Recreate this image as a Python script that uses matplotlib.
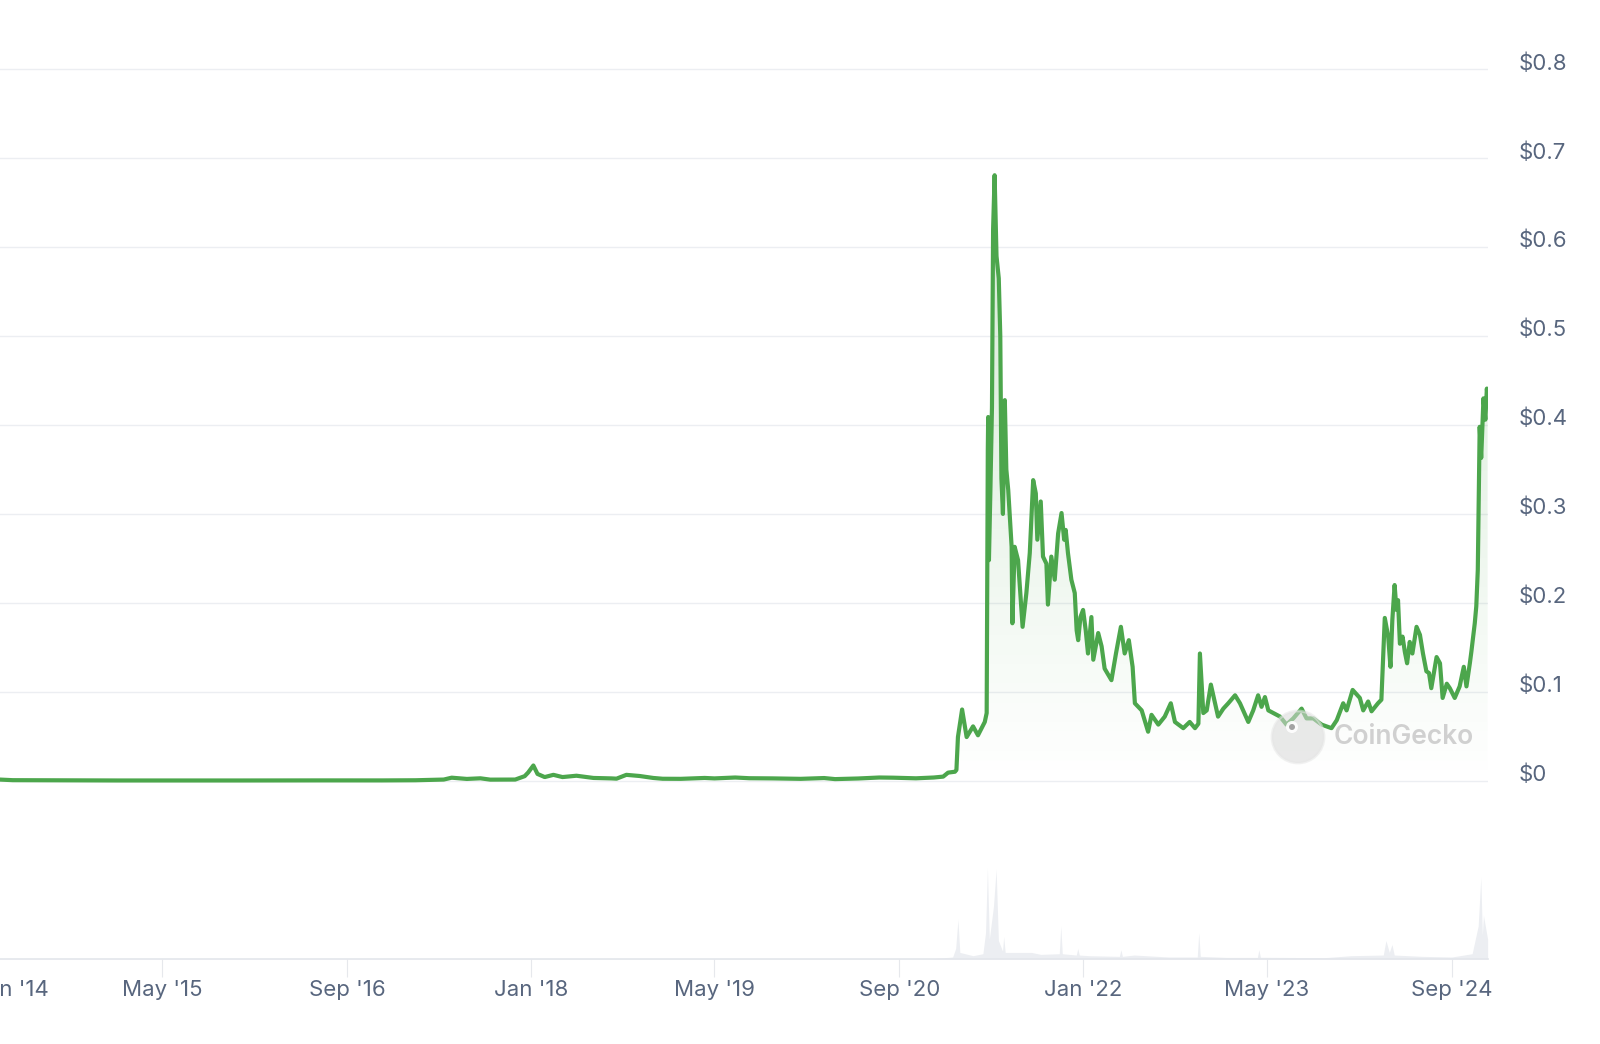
import numpy as np
import pandas as pd
import matplotlib
matplotlib.use('Agg')
import matplotlib.pyplot as plt
import matplotlib.dates as mdates
from matplotlib.colors import LinearSegmentedColormap
from matplotlib.transforms import ScaledTranslation
from matplotlib.patches import Circle

plt.rcParams['font.family'] = ['Inter', 'DejaVu Sans']

# PRICE (USD)
price_dates = [
    '2013-12-15', '2013-12-20', '2014-01-20', '2014-02-15', '2014-04-01', '2014-06-01', '2014-09-01',
    '2015-01-01', '2015-06-01', '2015-12-01', '2016-03-01', '2016-07-01', '2016-12-01',
    '2017-03-01', '2017-05-15', '2017-06-05', '2017-07-15', '2017-08-20', '2017-09-15', '2017-10-15',
    '2017-11-20', '2017-12-15', '2017-12-24',
    '2018-01-07', '2018-01-18', '2018-02-06', '2018-03-01', '2018-03-25', '2018-05-01', '2018-06-15',
    '2018-08-01', '2018-08-15', '2018-09-10', '2018-10-15', '2018-11-20', '2018-12-15',
    '2019-02-01', '2019-04-05', '2019-05-01', '2019-06-25', '2019-08-01', '2019-10-01', '2019-12-15',
    '2020-02-15', '2020-03-15', '2020-05-15', '2020-07-10', '2020-08-15', '2020-10-15', '2020-12-01',
    '2020-12-26',
    # 2021
    '2021-01-08', '2021-01-26', '2021-01-30', '2021-02-03', '2021-02-14', '2021-02-26', '2021-03-15',
    '2021-03-28', '2021-04-15', '2021-04-20', '2021-04-23', '2021-04-24', '2021-04-26', '2021-04-30',
    '2021-05-04', '2021-05-07', '2021-05-11', '2021-05-16', '2021-05-22', '2021-05-26', '2021-05-29',
    '2021-06-02', '2021-06-07', '2021-06-11', '2021-06-16', '2021-06-25', '2021-06-27', '2021-07-03',
    '2021-07-12', '2021-07-24', '2021-08-03', '2021-08-12', '2021-08-21', '2021-08-28', '2021-09-01',
    '2021-09-10', '2021-09-16', '2021-09-25', '2021-09-29', '2021-10-08', '2021-10-17', '2021-10-26',
    '2021-11-04', '2021-11-11', '2021-11-15', '2021-11-21', '2021-11-30', '2021-12-09', '2021-12-14',
    '2021-12-18', '2021-12-24', '2021-12-31',
    # 2022
    '2022-01-07', '2022-01-13', '2022-01-22', '2022-01-27', '2022-02-09', '2022-02-18', '2022-02-26',
    '2022-03-16', '2022-03-28', '2022-04-10', '2022-04-20', '2022-05-01', '2022-05-11', '2022-05-17',
    '2022-06-04', '2022-06-21', '2022-06-30', '2022-07-18', '2022-08-04', '2022-08-20', '2022-08-31',
    '2022-09-22', '2022-10-09', '2022-10-23', '2022-11-01', '2022-11-05', '2022-11-14', '2022-11-23',
    '2022-12-04', '2022-12-15', '2022-12-23',
    # 2023
    '2023-01-06', '2023-01-19', '2023-02-06', '2023-02-19', '2023-03-13', '2023-03-26', '2023-04-08',
    '2023-04-17', '2023-04-26', '2023-05-05', '2023-06-05', '2023-06-22', '2023-07-10', '2023-08-01',
    '2023-08-14', '2023-09-01', '2023-09-23', '2023-10-19', '2023-11-02', '2023-11-19', '2023-11-28',
    '2023-12-14',
    # 2024
    '2024-01-02', '2024-01-11', '2024-01-24', '2024-02-02', '2024-02-19', '2024-02-28', '2024-03-08',
    '2024-03-17', '2024-03-23', '2024-03-28', '2024-04-03', '2024-04-08', '2024-04-12', '2024-04-17',
    '2024-04-24', '2024-04-30', '2024-05-06', '2024-05-13', '2024-05-20', '2024-05-31', '2024-06-09',
    '2024-06-17', '2024-06-26', '2024-07-03', '2024-07-09', '2024-07-23', '2024-08-01', '2024-08-08',
    '2024-08-19', '2024-08-27', '2024-09-09', '2024-09-22', '2024-10-03', '2024-10-10', '2024-10-19',
    '2024-10-23', '2024-11-01', '2024-11-05', '2024-11-09', '2024-11-14', '2024-11-18', '2024-11-24',
    '2024-11-29', '2024-12-03', '2024-12-05',
]
price_usd = [
    0.00056, 0.0012, 0.0018, 0.0014, 0.0005, 0.0004, 0.00025,
    0.00016, 0.00013, 0.00016, 0.00025, 0.00025, 0.00022,
    0.0004, 0.0012, 0.0033, 0.0019, 0.0026, 0.0011, 0.0011,
    0.0012, 0.005, 0.009,
    0.017, 0.0075, 0.004, 0.0065, 0.004, 0.0055, 0.003,
    0.0025, 0.0022, 0.0065, 0.0052, 0.003, 0.0021,
    0.002, 0.003, 0.0025, 0.0035, 0.0027, 0.0025, 0.002,
    0.0029, 0.0017, 0.0024, 0.0035, 0.0033, 0.0026, 0.0035,
    0.0045,
    # 2021
    0.009, 0.010, 0.012, 0.049, 0.080, 0.049, 0.061,
    0.051, 0.066, 0.076, 0.372, 0.409, 0.248, 0.330,
    0.420, 0.620, 0.681, 0.590, 0.565, 0.500, 0.340,
    0.300, 0.428, 0.350, 0.327, 0.263, 0.177, 0.263,
    0.248, 0.173, 0.211, 0.256, 0.338, 0.323, 0.271,
    0.314, 0.252, 0.244, 0.198, 0.252, 0.226, 0.278,
    0.301, 0.271, 0.282, 0.256, 0.226, 0.211, 0.169,
    0.158, 0.184, 0.192,
    # 2022
    0.169, 0.143, 0.184, 0.136, 0.166, 0.151, 0.126,
    0.113, 0.143, 0.173, 0.143, 0.158, 0.128, 0.087,
    0.079, 0.055, 0.074, 0.063, 0.072, 0.087, 0.066,
    0.059, 0.066, 0.059, 0.064, 0.143, 0.076, 0.079,
    0.108, 0.087, 0.072,
    # 2023
    0.081, 0.087, 0.096, 0.087, 0.066, 0.079, 0.096,
    0.083, 0.094, 0.079, 0.072, 0.063, 0.070, 0.081,
    0.070, 0.070, 0.063, 0.059, 0.068, 0.087, 0.079,
    0.102,
    # 2024
    0.093, 0.079, 0.089, 0.078, 0.087, 0.091, 0.183,
    0.162, 0.128, 0.181, 0.220, 0.192, 0.203, 0.154,
    0.162, 0.145, 0.132, 0.156, 0.143, 0.173, 0.164,
    0.143, 0.123, 0.121, 0.104, 0.139, 0.132, 0.093,
    0.109, 0.104, 0.093, 0.106, 0.128, 0.106, 0.132,
    0.145, 0.177, 0.196, 0.237, 0.398, 0.363, 0.430,
    0.406, 0.441, 0.430,
]

# VOLUME (billion USD)
vol_dates = [
    '2013-12-15', '2017-06-01', '2018-01-07', '2020-12-01', '2021-01-20', '2021-01-28', '2021-02-03',
    '2021-02-08', '2021-03-15', '2021-04-10', '2021-04-17', '2021-04-22', '2021-04-27', '2021-05-08',
    '2021-05-15', '2021-05-21', '2021-06-01', '2021-06-04', '2021-06-08', '2021-08-16', '2021-09-10',
    '2021-10-29', '2021-11-02', '2021-11-06', '2021-12-13', '2021-12-17', '2021-12-21', '2022-01-15',
    '2022-04-06', '2022-04-10', '2022-04-14', '2022-05-15', '2022-08-15', '2022-10-29', '2022-11-02',
    '2022-11-06', '2023-01-15', '2023-04-06', '2023-04-10', '2023-04-14', '2023-10-01', '2023-12-10',
    '2024-03-04', '2024-03-11', '2024-03-20', '2024-03-27', '2024-04-02', '2024-06-15', '2024-09-01',
    '2024-10-25', '2024-11-10', '2024-11-17', '2024-11-21', '2024-11-24', '2024-12-05',
]
vol_bn = [
    0.05, 0.1, 0.3, 0.3, 1.5, 8, 30,
    5, 2.5, 4, 20, 69, 15, 40,
    68, 14, 6, 17, 5, 5, 3.5,
    4, 25, 4, 3, 8, 3, 2.5,
    2, 7, 2, 3, 1.5, 1.5, 20,
    2, 1.2, 1.2, 7, 1.3, 1, 2.5,
    3, 14, 5, 11, 3, 2, 1.5,
    4, 25, 62, 18, 33, 15,
]

x_tick_dates = ['2014-01-01', '2015-05-01', '2016-09-01', '2018-01-01', '2019-05-01',
                '2020-09-01', '2022-01-01', '2023-05-01', '2024-09-01']
x_tick_labels = ["Jan '14", "May '15", "Sep '16", "Jan '18", "May '19",
                 "Sep '20", "Jan '22", "May '23", "Sep '24"]
y_ticks = [0, 0.1, 0.2, 0.3, 0.4, 0.5, 0.6, 0.7, 0.8]
y_labels = ['$0', '$0.1', '$0.2', '$0.3', '$0.4', '$0.5', '$0.6', '$0.7', '$0.8']

dates = pd.to_datetime(price_dates)
vdates = pd.to_datetime(vol_dates)
x_start, x_end = pd.Timestamp('2013-12-15'), pd.Timestamp('2024-12-06')

GREEN = '#4ca64c'
TXT = '#58667e'

W, H = 1600, 1044
fig = plt.figure(figsize=(W / 100, H / 100), dpi=100)


def px_box(x0, y0, x1, y1):
    return [x0 / W, 1 - y1 / H, (x1 - x0) / W, (y1 - y0) / H]


# PRICE PANEL
ax = fig.add_axes(px_box(-27.7, 0, 1488, 800))
poly = ax.fill_between(dates, price_usd, 0, color='none', lw=0)
cmap = LinearSegmentedColormap.from_list('fade', [(0.30, 0.65, 0.30, 0.0), (0.30, 0.65, 0.30, 0.26)])
grad = np.linspace(0, 1, 256).reshape(-1, 1)
img = ax.imshow(grad, extent=[mdates.date2num(dates[0]), mdates.date2num(dates[-1]), 0, 0.72],
                origin='lower', aspect='auto', cmap=cmap, zorder=1)
img.set_clip_path(poly.get_paths()[0], transform=ax.transData)
ax.plot(dates, price_usd, color=GREEN, lw=3.0, solid_joinstyle='round', zorder=3)

ax.set_xlim(x_start, x_end)
ax.set_ylim(-0.0218, 0.8781)
ax.set_yticks(y_ticks)
ax.set_yticklabels(y_labels)
ax.yaxis.tick_right()
ax.grid(axis='y', color='#eceef2', lw=1.0)
ax.set_axisbelow(True)
ax.tick_params(axis='y', length=0, pad=22.3, labelsize=16, labelcolor=TXT)
ax.tick_params(axis='x', bottom=False, labelbottom=False)
for s in ax.spines.values():
    s.set_visible(False)
for lab in ax.get_yticklabels():
    lab.set_transform(lab.get_transform() + ScaledTranslation(0, 8 / 100, fig.dpi_scale_trans))

# VOLUME PANEL
axv = fig.add_axes(px_box(-27.7, 862, 1488, 959))
axv.fill_between(vdates, vol_bn, 0, color='#eceef2', lw=0)
axv.set_xlim(x_start, x_end)
axv.set_ylim(0, 73.5)
axv.set_yticks([])
axv.set_xticks(pd.to_datetime(x_tick_dates))
axv.set_xticklabels(x_tick_labels)
axv.tick_params(axis='x', length=13, width=0.8, color='#e6e8ec', pad=2, labelsize=16, labelcolor=TXT)
first = axv.get_xticklabels()[0]
first.set_ha('left')
first.set_transform(first.get_transform() + ScaledTranslation(-5 / 100, 0, fig.dpi_scale_trans))
for k, s in axv.spines.items():
    s.set_visible(k == 'bottom')
axv.spines['bottom'].set_color('#e3e6eb')
axv.spines['bottom'].set_linewidth(1.2)
axv.patch.set_alpha(0)

# WATERMARK
fig.add_artist(Circle((12.98, (H - 737) / 100), 0.26, transform=fig.dpi_scale_trans,
                      facecolor='#d9d9d9', edgecolor='#e6e6e6', lw=2, alpha=0.55, zorder=5))
fig.add_artist(Circle((12.92, (H - 727) / 100), 0.06, transform=fig.dpi_scale_trans,
                      facecolor='white', edgecolor='none', alpha=0.9, zorder=6))
fig.add_artist(Circle((12.92, (H - 727) / 100), 0.03, transform=fig.dpi_scale_trans,
                      facecolor='#9a9a9a', edgecolor='none', alpha=0.9, zorder=7))
fig.text(1334 / W, 1 - 737 / H, 'CoinGecko', fontsize=19, color='#c9c9c9', alpha=0.85,
         fontweight='semibold', va='center', ha='left', zorder=6)

fig.savefig('out.png', dpi=100)
